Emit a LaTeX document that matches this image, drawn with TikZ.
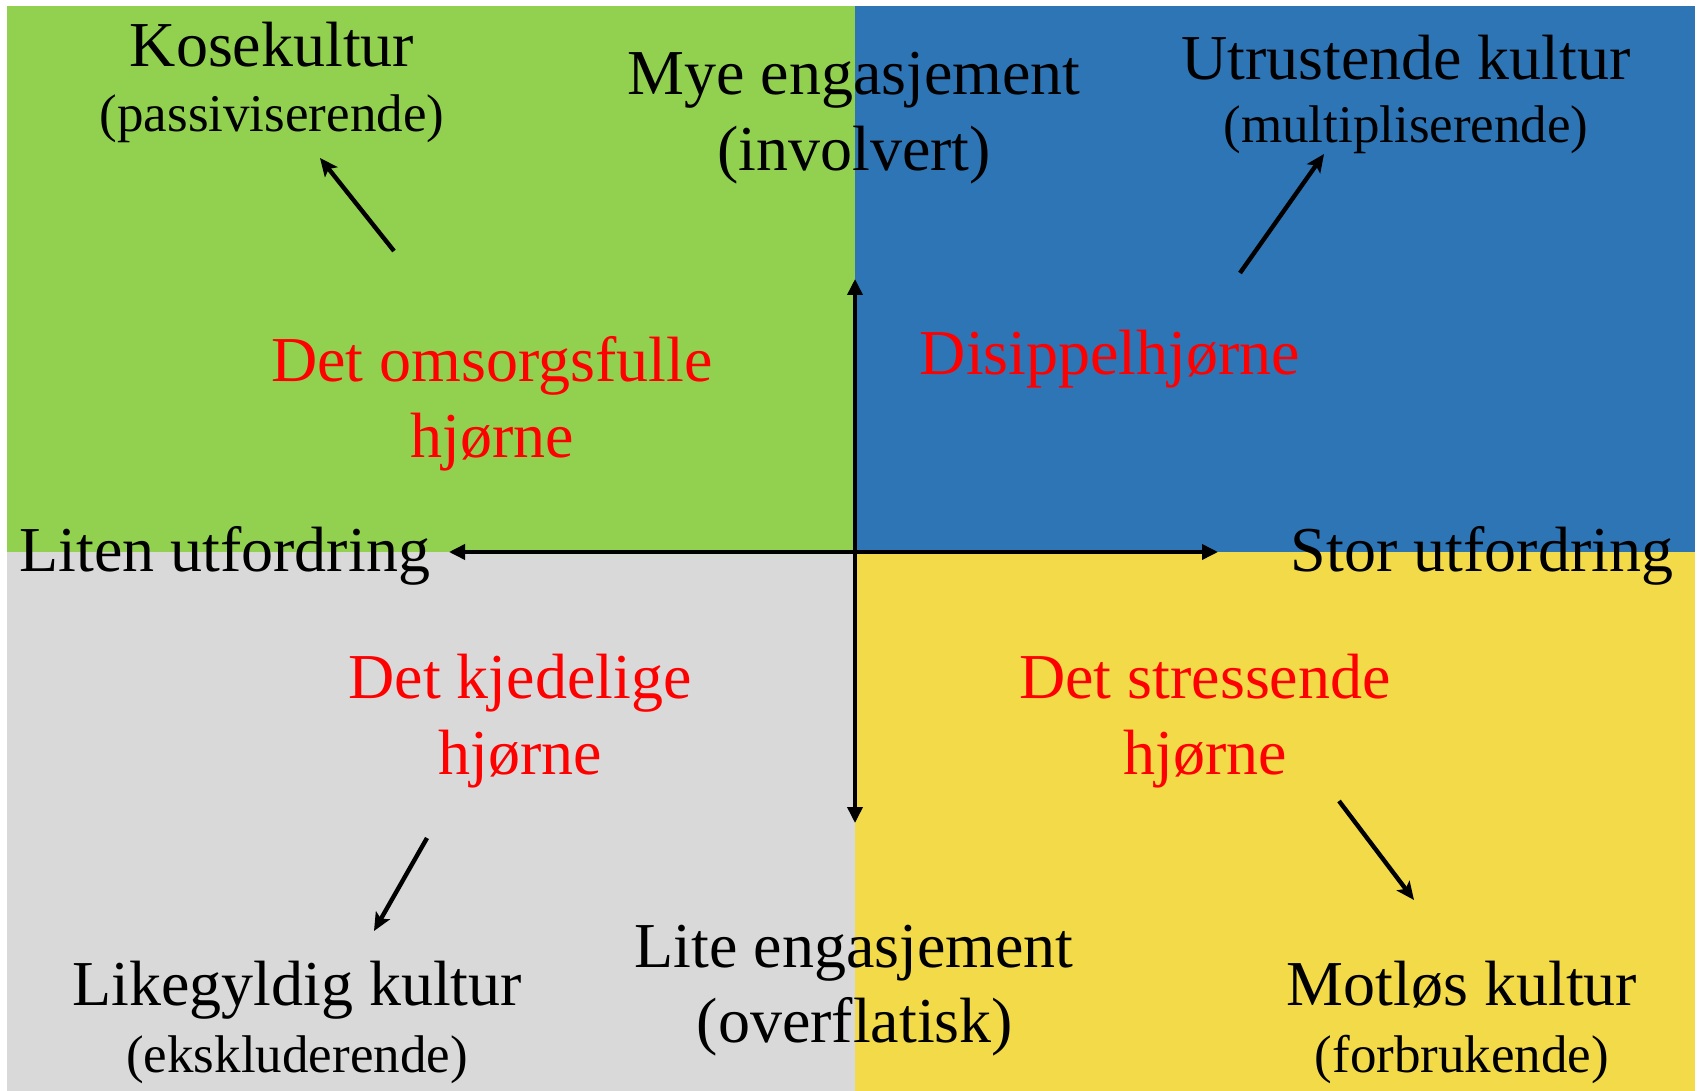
\documentclass[tikz,border=0pt]{standalone}
\usepackage{fontspec}
\setmainfont{Liberation Serif}
\usetikzlibrary{arrows.meta}
\definecolor{kosegreen}{RGB}{146,208,80}
\definecolor{disippelblue}{RGB}{46,117,182}
\definecolor{kjedeliggray}{RGB}{217,217,217}
\definecolor{stressyellow}{RGB}{242,218,72}
\tikzset{
	big label/.style={anchor=base, inner sep=0pt, font=\fontsize{32}{38}\selectfont},
	small label/.style={anchor=base, inner sep=0pt, font=\fontsize{26.5}{32}\selectfont},
	corner label/.style={big label, text=red},
	axis/.style={line width=1.8pt, {Triangle[length=8pt,width=7.5pt]}-{Triangle[length=8pt,width=7.5pt]}},
	culture arrow/.style={line width=2.2pt, -{Stealth[length=9pt,width=8pt,inset=2pt]}}
}

\begin{document}
\begin{tikzpicture}[x=0.5pt, y=-0.5pt]
\useasboundingbox (0,0) rectangle (1698,1091);
% the four corners
\foreach \col/\xa/\ya/\xb/\yb in {kosegreen/7/6/855/552, disippelblue/855/6/1695/552,
	kjedeliggray/7/552/855/1091, stressyellow/855/552/1695/1091}
	\fill[\col] (\xa,\ya) rectangle (\xb,\yb);

% axes
\coordinate (Left) at (449,552);
\coordinate (Right) at (1218,552);
\coordinate (Top) at (855,279);
\coordinate (Bottom) at (855,823);
\draw[axis] (Left) -- (Right);
\draw[axis] (Top) -- (Bottom);

\node (Mye) [big label] at (854,95) {Mye engasjement};
\node (Involvert) [big label] at (854,171) {(involvert)};
\node (Lite) [big label] at (854,967) {Lite engasjement};
\node (Overflatisk) [big label] at (855,1042) {(overflatisk)};
\node (Liten) [big label, anchor=base west] at (19,571) {Liten utfordring};
\node (Stor) [big label] at (1482,571) {Stor utfordring};

% corner names
\node (Omsorg) [corner label] at (492,381) {Det omsorgsfulle};
\node (OmsorgB) [corner label] at (492,457) {hjørne};
\node (Disippel) [corner label] at (1110,374) {Disippelhjørne};
\node (Kjedelig) [corner label] at (520,698) {Det kjedelige};
\node (KjedeligB) [corner label] at (520,774) {hjørne};
\node (Stress) [corner label] at (1205,698) {Det stressende};
\node (StressB) [corner label] at (1205,774) {hjørne};

% cultures
\node (Kose) [big label] at (272,67) {Kosekultur};
\node (Passiv) [small label] at (272,132) {(passiviserende)};
\node (Utrust) [big label] at (1406,80) {Utrustende kultur};
\node (Multi) [small label] at (1406,143) {(multipliserende)};
\node (Likegyldig) [big label] at (297,1005) {Likegyldig kultur};
\node (Ekskl) [small label] at (297,1072) {(ekskluderende)};
\node (Motlos) [big label] at (1462,1005) {Motløs kultur};
\node (Forbruk) [small label] at (1462,1072) {(forbrukende)};

\coordinate (KoseTail) at (394,251);
\coordinate (KoseTip) at (320,158);
\coordinate (UtrustTail) at (1240,273);
\coordinate (UtrustTip) at (1324,154);
\coordinate (LikeTail) at (427,838);
\coordinate (LikeTip) at (374,931);
\coordinate (MotlosTail) at (1339,801);
\coordinate (MotlosTip) at (1414,900);
\draw[culture arrow] (KoseTail) -- (KoseTip);
\draw[culture arrow] (UtrustTail) -- (UtrustTip);
\draw[culture arrow] (LikeTail) -- (LikeTip);
\draw[culture arrow] (MotlosTail) -- (MotlosTip);
\end{tikzpicture}
\end{document}
